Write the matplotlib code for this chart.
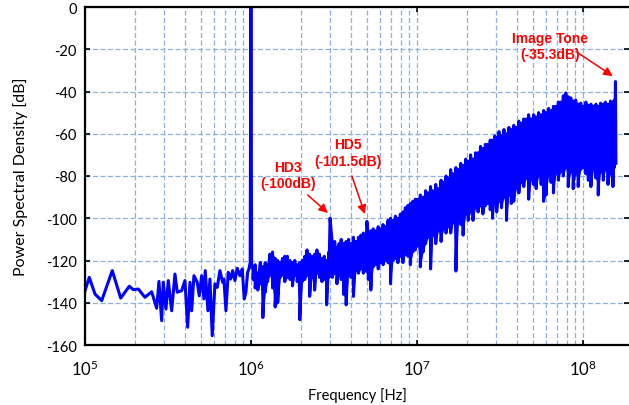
import matplotlib
matplotlib.use('Agg')
import matplotlib.pyplot as plt
from matplotlib.ticker import LogLocator, NullFormatter

plt.rcParams['font.family'] = ['Lato', 'DejaVu Sans']
plt.rcParams['axes.unicode_minus'] = False

# ---------------- data ----------------
# sparse low-frequency part of the spectrum
low_freq_hz = [1.00e5, 1.061e5, 1.149e5, 1.261e5, 1.460e5, 1.641e5, 1.849e5, 1.954e5,
               2.095e5, 2.298e5, 2.522e5, 2.704e5, 2.791e5, 2.897e5, 2.963e5, 3.076e5,
               3.176e5, 3.329e5, 3.485e5, 3.597e5, 3.823e5, 4.003e5, 4.156e5, 4.291e5,
               4.393e5, 4.535e5, 4.748e5, 4.882e5, 5.047e5, 5.211e5, 5.305e5, 5.508e5,
               5.662e5, 5.846e5, 6.069e5, 6.266e5, 6.506e5, 6.754e5, 6.877e5, 7.071e5,
               7.301e5, 7.548e5, 7.761e5, 8.011e5, 8.271e5, 8.586e5, 8.865e5, 9.114e5,
               9.330e5, 9.553e5, 9.727e5]
low_psd_db = [-134.3, -128.0, -135.9, -139.0, -124.8, -137.8, -132.2, -133.8,
              -133.5, -137.4, -134.8, -142.6, -129.9, -148.5, -130.3, -143.0,
              -129.5, -143.8, -126.4, -135.0, -134.3, -129.5, -151.6, -130.3,
              -143.8, -127.2, -130.3, -136.7, -127.2, -138.2, -124.8, -143.8,
              -128.8, -155.6, -131.1, -132.7, -124.8, -130.3, -128.8, -143.8,
              -125.6, -128.8, -124.8, -129.5, -123.7, -127.2, -124.0, -138.2,
              -135.0, -125.6, -124.0]

# fundamental tone at 1 MHz (clipped at the top of the plot)
fund_freq_hz = [0.99e6, 1.0e6, 1.01e6]
fund_psd_db = [-121.0, 5.0, -123.0]

# dense part: upper and lower excursion of the trace at each frequency
band_freq_mhz = [
    1.03, 1.06, 1.10, 1.14, 1.18, 1.22, 1.26, 1.30, 1.35, 1.40, 1.45, 1.50, 1.55, 1.60, 1.66, 1.72,
    1.78, 1.84, 1.90, 1.97, 2.04, 2.11, 2.18, 2.26, 2.34, 2.42, 2.50, 2.59, 2.68, 2.77, 2.86, 2.95,
    3.10, 3.20, 3.30, 3.40, 3.50, 3.62, 3.75, 3.88, 4.01, 4.15, 4.30, 4.45, 4.60, 4.76, 4.90, 5.10,
    5.28, 5.46, 5.65, 5.85, 6.05, 6.26, 6.48, 6.71, 6.94, 7.18, 7.43, 7.69, 7.96, 8.24, 8.53, 8.83,
    9.14, 9.46, 9.79,
    10.1, 10.5, 10.9, 11.3, 11.7, 12.1, 12.5, 13.0, 13.5, 14.0, 14.5, 15.0, 15.5, 16.0, 16.6, 17.2,
    17.8, 18.4, 19.0, 19.7, 20.4, 21.1, 21.8, 22.6, 23.4, 24.2, 25.0, 25.9, 26.8, 27.7, 28.6, 29.5,
    30.3, 31.3, 32.4, 33.5, 34.7, 35.9, 37.1, 38.4, 39.8, 41.2, 42.6, 44.1, 45.6, 47.2, 48.9, 50.6,
    52.4, 54.2, 56.1, 58.1, 60.1, 62.2, 64.4, 66.6, 68.9, 71.3, 73.8, 76.4, 79.0, 81.8, 84.7, 87.6,
    90.7, 93.9, 97.2,
    101.0, 104.5, 108.0, 112.0, 116.0, 120.0, 124.0, 128.0, 133.0, 137.0, 142.0, 147.0, 152.0, 155.0]
band_hi_db = [
    -124, -122, -126, -121, -123, -121, -122, -117, -116, -119, -120, -121, -119, -118, -118, -120,
    -121, -120, -122, -121, -120, -118, -115, -117, -118, -117, -115, -117, -119, -118, -120, -116,
    -113, -111, -114, -112, -110, -112, -111, -110, -112, -109, -111, -109, -108, -107, -108, -108,
    -106, -105, -106, -104, -105, -103, -104, -101, -100, -101, -99, -100, -98, -97, -95, -94,
    -93, -92, -91,
    -91, -89, -90, -87, -88, -85, -87, -84, -86, -82, -83, -80, -81, -77, -79, -76,
    -77, -74, -75, -72, -73, -70, -72, -69, -69, -66, -67, -65, -65, -63, -63, -61,
    -62, -59, -61, -58, -60, -57, -58, -56, -57, -54, -55, -53, -53, -51, -53, -51,
    -52, -50, -51, -49, -50, -48, -49, -47, -47, -45, -45, -42, -40.7, -42.5, -43, -44.5,
    -44, -46, -45.5,
    -47, -45, -46.5, -46, -47, -46, -47, -45.5, -46, -45, -46, -44.5, -45, -44]
band_lo_db = [
    -129, -133, -134, -131, -147, -135, -130, -127, -133, -142, -140, -128, -127, -130, -128, -129,
    -132, -127, -130, -148, -130, -129, -127, -137, -128, -134, -126, -128, -130, -129, -141, -128,
    -128, -126, -131, -127, -129, -136, -141, -126, -128, -137, -125, -126, -124, -126, -125, -129,
    -134, -123, -122, -124, -121, -122, -120, -121, -131, -120, -119, -121, -118, -121, -117, -118,
    -122, -116, -115,
    -113, -123, -116, -112, -109, -124, -108, -112, -106, -111, -105, -107, -104, -107, -102, -125,
    -101, -103, -108, -98, -101, -97, -101, -95, -97, -94, -98, -94, -93, -96, -100, -92,
    -97, -92, -95, -90, -101, -89, -93, -92, -86, -88, -83, -85, -81, -91, -82, -84,
    -86, -80, -84, -92, -89, -80, -83, -88, -79, -82, -78, -80, -76, -85, -78, -86,
    -79, -85, -77,
    -76, -79, -82, -85, -77, -81, -89, -78, -82, -77, -84, -79, -85, -76]

# labelled spurs
hd3_freq_hz, hd3_db = 3.0e6, -100.0
hd5_freq_hz, hd5_db = 5.0e6, -101.5
image_freq_hz, image_db = 1.575e8, -35.3
end_freq_hz, end_db = 1.585e8, -74.0

# ---------------- assemble trace ----------------
pts = list(zip(low_freq_hz, low_psd_db)) + list(zip(fund_freq_hz, fund_psd_db))
band_pts = []
for f, hi, lo in zip(band_freq_mhz, band_hi_db, band_lo_db):
    band_pts.append((f * 1e6, hi))
    band_pts.append((f * 1e6, lo))
band_pts += [(hd3_freq_hz, hd3_db), (hd5_freq_hz, hd5_db),
             (image_freq_hz, image_db), (end_freq_hz, end_db)]
band_pts.sort(key=lambda p: p[0])
pts += band_pts
xs = [p[0] for p in pts]
ys = [p[1] for p in pts]
band_f_hz = [f * 1e6 for f in band_freq_mhz]

# ---------------- figure ----------------
W, H = 629, 406
fig = plt.figure(figsize=(W / 100, H / 100), dpi=100)
ax = fig.add_axes([85 / W, 1 - 346 / H, 1 - 85 / W, (346 - 8) / H])

blue = '#0000ff'
ax.fill_between(band_f_hz, band_lo_db, band_hi_db, color=blue, lw=0, zorder=3)
ax.plot(xs, ys, color=blue, lw=2.2, solid_joinstyle='round', zorder=3)

ax.set_xscale('log')
ax.set_xlim(1e5, 1.9e8)
ax.set_ylim(-160, 0)
ax.set_yticks(range(-160, 1, 20))
ax.xaxis.set_minor_locator(LogLocator(base=10, subs=range(2, 10)))
ax.xaxis.set_minor_formatter(NullFormatter())

gkw = dict(color='#8fb0dc', lw=0.9, linestyle=(0, (4, 2)))
ax.grid(which='major', axis='both', **gkw)
ax.grid(which='minor', axis='x', **gkw)
ax.set_axisbelow(True)

for s in ['left', 'top', 'bottom']:
    ax.spines[s].set_linewidth(1.6)
    ax.spines[s].set_zorder(5)
ax.spines['right'].set_visible(False)

ax.tick_params(which='major', direction='in', length=3.5, width=1.2,
               top=True, right=True, color='black')
ax.tick_params(which='minor', length=0)
ax.tick_params(axis='y', labelsize=10.5, pad=6)
ax.tick_params(axis='x', labelsize=12, pad=10)

ax.set_xlabel('Frequency [Hz]', fontsize=10.5, labelpad=6)
ax.set_ylabel('Power Spectral Density [dB]', fontsize=11.5, labelpad=13)

# ---------------- annotations ----------------
akw = dict(arrowstyle='-|>', color='#ff0000', lw=1.1, mutation_scale=13,
           shrinkA=0, shrinkB=0)
tkw = dict(ha='center', va='center', color='#ff0000', fontweight='bold',
           family=['Liberation Sans', 'DejaVu Sans'], fontsize=10, linespacing=1.25)

ax.annotate('', xy=(2.91e6, -97.5), xytext=(2.2e6, -89.0), arrowprops=akw)
ax.text(1.67e6, -79.5, f'HD3\n({hd3_db:g}dB)', **tkw)

ax.annotate('', xy=(4.86e6, -98.0), xytext=(4.06e6, -80.0), arrowprops=akw)
ax.text(3.84e6, -69.0, f'HD5\n({hd5_db:g}dB)', **tkw)

ax.annotate('', xy=(1.516e8, -32.7), xytext=(9.2e7, -21.3), arrowprops=akw)
ax.text(6.33e7, -18.5, f'Image Tone\n({image_db:g}dB)', **tkw)

fig.savefig('out.png', dpi=100)
